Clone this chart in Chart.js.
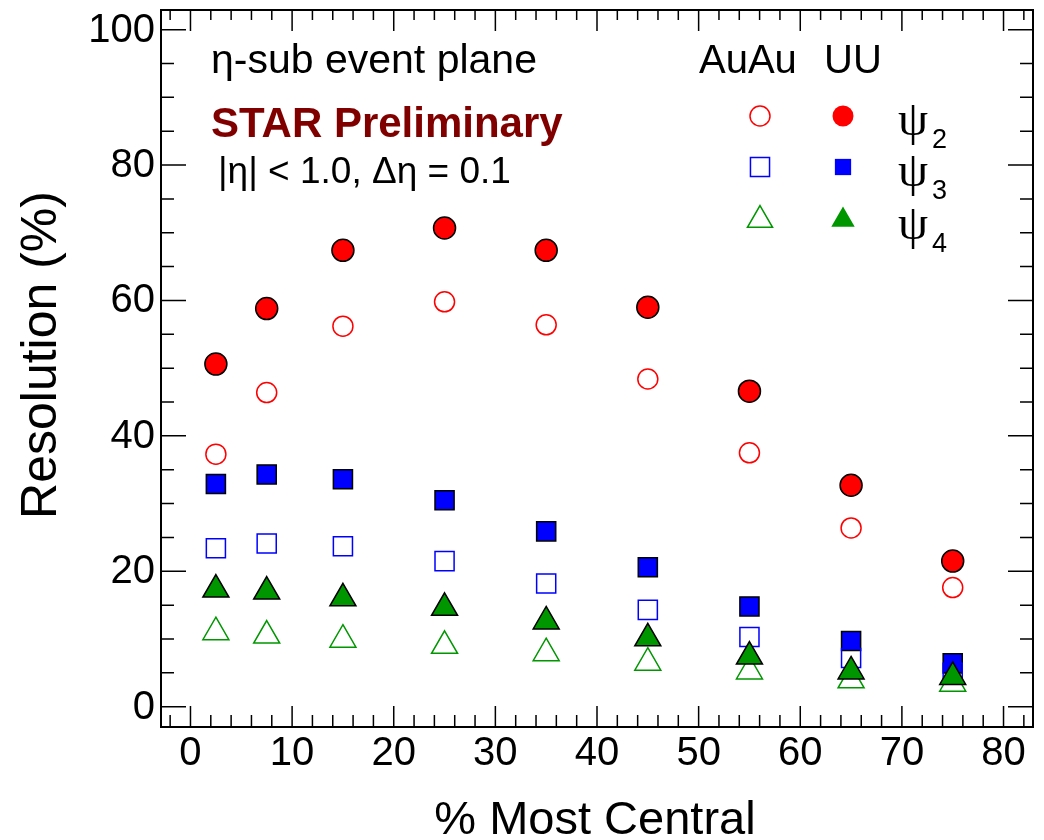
<!DOCTYPE html>
<html lang="en">
<head>
  <meta charset="UTF-8">
  <title>Event plane resolution</title>
  <script src="https://cdn.jsdelivr.net/npm/chart.js"></script>
  <style>
    body { margin: 0; background: #fff; }
  </style>
</head>
<body>
  <canvas id="myChart" width="1044" height="840"></canvas>
<script>
  // centrality bins (% most central)
  const centrality = [2.5, 7.5, 15, 25, 35, 45, 55, 65, 75];

  const uuPsi2 = [50.6, 58.8, 67.4, 70.7, 67.4, 59.0, 46.6, 32.7, 21.5];
  const auauPsi2 = [37.3, 46.4, 56.2, 59.8, 56.4, 48.4, 37.5, 26.4, 17.6];
  const uuPsi3 = [32.9, 34.3, 33.6, 30.5, 25.9, 20.6, 14.8, 9.7, 6.4];
  const auauPsi3 = [23.4, 24.1, 23.7, 21.5, 18.2, 14.3, 10.3, 7.2, 5.0];
  const uuPsi4 = [17.3, 17.0, 16.0, 14.6, 12.6, 10.1, 7.4, 5.2, 4.4];
  const auauPsi4 = [11.0, 10.5, 9.9, 9.0, 7.9, 6.5, 5.2, 3.9, 3.4];

  const xTicks = [0, 10, 20, 30, 40, 50, 60, 70, 80];
  const yTicks = [0, 20, 40, 60, 80, 100];

  const RED = '#ff0000';
  const BLUE = '#0000ff';
  const GREEN = '#009600';
  const FONT = '"Liberation Sans", Arial, Helvetica, sans-serif';

  function pts(vals) {
    return vals.map((v, i) => ({ x: centrality[i], y: v }));
  }

  // frame, ROOT-style inner ticks on all four sides, labels and legend
  const framePlugin = {
    id: 'frame',
    afterDraw(chart) {
      const { ctx, chartArea: a, scales: { x, y } } = chart;
      ctx.save();
      ctx.strokeStyle = '#000';
      ctx.lineWidth = 2;
      ctx.strokeRect(a.left, a.top, a.right - a.left, a.bottom - a.top);

      ctx.lineWidth = 1.5;
      ctx.beginPath();
      for (let v = -2; v <= 82; v += 2) {
        const px = x.getPixelForValue(v);
        const len = v % 10 === 0 ? 21 : 12;
        ctx.moveTo(px, a.bottom); ctx.lineTo(px, a.bottom - len);
        ctx.moveTo(px, a.top); ctx.lineTo(px, a.top + (v % 10 === 0 ? 21 : 10));
      }
      for (let v = 0; v <= 100; v += 5) {
        const py = y.getPixelForValue(v);
        const len = v % 20 === 0 ? 25 : 13;
        ctx.moveTo(a.left, py); ctx.lineTo(a.left + len, py);
        ctx.moveTo(a.right, py); ctx.lineTo(a.right - len, py);
      }
      ctx.stroke();

      // tick labels
      ctx.fillStyle = '#000';
      ctx.font = '40px ' + FONT;
      ctx.textAlign = 'center';
      ctx.textBaseline = 'alphabetic';
      xTicks.forEach(v => ctx.fillText(String(v), x.getPixelForValue(v), 765));
      ctx.textAlign = 'right';
      ctx.textBaseline = 'middle';
      yTicks.forEach(v => ctx.fillText(String(v), 155, y.getPixelForValue(v) + 1));

      // axis titles
      ctx.textAlign = 'center';
      ctx.textBaseline = 'alphabetic';
      ctx.font = '47px ' + FONT;
      ctx.fillText('% Most Central', 595, 834);
      ctx.font = '50px ' + FONT;
      ctx.save();
      ctx.translate(56, 355);
      ctx.rotate(-Math.PI / 2);
      ctx.fillText('Resolution (%)', 0, 0);
      ctx.restore();

      // annotations
      ctx.textAlign = 'left';
      ctx.font = '41px ' + FONT;
      ctx.fillText('\u03b7-sub event plane', 211, 73);
      ctx.font = '37px ' + FONT;
      ctx.fillText('|\u03b7| < 1.0, \u0394\u03b7 = 0.1', 218, 183);
      ctx.font = 'bold 42px ' + FONT;
      ctx.fillStyle = '#800000';
      ctx.fillText('STAR Preliminary', 211, 137);

      // legend
      ctx.fillStyle = '#000';
      ctx.font = '40px ' + FONT;
      ctx.fillText('AuAu', 699, 73);
      ctx.fillText('UU', 824, 73);

      const rows = [
        { y: 116, sub: '2', color: RED, open: { pointStyle: 'circle', radius: 10 }, full: { pointStyle: 'circle', radius: 10.5 } },
        { y: 167, sub: '3', color: BLUE, open: { pointStyle: 'rect', radius: 13.5 }, full: { pointStyle: 'rect', radius: 11.5 } },
        { y: 220, sub: '4', color: GREEN, open: { pointStyle: 'triangle', radius: 14.5 }, full: { pointStyle: 'triangle', radius: 13.5 } }
      ];
      rows.forEach(r => {
        ctx.lineWidth = 1.5;
        ctx.strokeStyle = r.color;
        ctx.fillStyle = 'rgba(0,0,0,0)';
        Chart.helpers.drawPoint(ctx, { ...r.open, rotation: 0, borderWidth: 1.5 }, 760, r.y);
        ctx.fillStyle = r.color;
        Chart.helpers.drawPoint(ctx, { ...r.full, rotation: 0, borderWidth: 0 }, 843, r.y);
        ctx.fillStyle = '#000';
        ctx.font = '48px "Liberation Serif", serif';
        ctx.fillText('\u03c8', 898, r.y + 19);
        ctx.font = '27px ' + FONT;
        ctx.fillText(r.sub, 932, r.y + 32);
      });
      ctx.restore();
    }
  };

  const ctx = document.getElementById('myChart');

  new Chart(ctx, {
    type: 'scatter',
    data: {
      datasets: [{
        label: 'UU psi4',
        data: pts(uuPsi4),
        pointStyle: 'triangle',
        pointRadius: 15,
        backgroundColor: GREEN,
        borderColor: '#000',
        borderWidth: 1.5,
        order: 1
      }, {
        label: 'AuAu psi4',
        data: pts(auauPsi4),
        pointStyle: 'triangle',
        pointRadius: 15,
        backgroundColor: 'rgba(0,0,0,0)',
        borderColor: GREEN,
        borderWidth: 1.5,
        order: 2
      }, {
        label: 'AuAu psi3',
        data: pts(auauPsi3),
        pointStyle: 'rect',
        pointRadius: 13.5,
        backgroundColor: 'rgba(0,0,0,0)',
        borderColor: BLUE,
        borderWidth: 1.5,
        order: 3
      }, {
        label: 'UU psi3',
        data: pts(uuPsi3),
        pointStyle: 'rect',
        pointRadius: 13.5,
        backgroundColor: BLUE,
        borderColor: '#000',
        borderWidth: 1.5,
        order: 4
      }, {
        label: 'UU psi2',
        data: pts(uuPsi2),
        pointStyle: 'circle',
        pointRadius: 11,
        backgroundColor: RED,
        borderColor: '#000',
        borderWidth: 1.5,
        order: 5
      }, {
        label: 'AuAu psi2',
        data: pts(auauPsi2),
        pointStyle: 'circle',
        pointRadius: 10,
        backgroundColor: 'rgba(0,0,0,0)',
        borderColor: RED,
        borderWidth: 1.5,
        order: 6
      }]
    },
    options: {
      responsive: false,
      animation: false,
      devicePixelRatio: 1,
      layout: { autoPadding: false, padding: { top: 10, right: 11, left: 0, bottom: 0 } },
      plugins: {
        legend: { display: false },
        tooltip: { enabled: false }
      },
      scales: {
        x: {
          type: 'linear',
          min: -2.9,
          max: 82.9,
          grid: { display: false, drawTicks: false },
          border: { display: false },
          ticks: { display: false },
          afterFit: s => { s.height = 113; }
        },
        y: {
          type: 'linear',
          min: -3,
          max: 102.9,
          grid: { display: false, drawTicks: false },
          border: { display: false },
          ticks: { display: false },
          afterFit: s => { s.width = 161; }
        }
      }
    },
    plugins: [framePlugin]
  });
</script>
</body>
</html>
